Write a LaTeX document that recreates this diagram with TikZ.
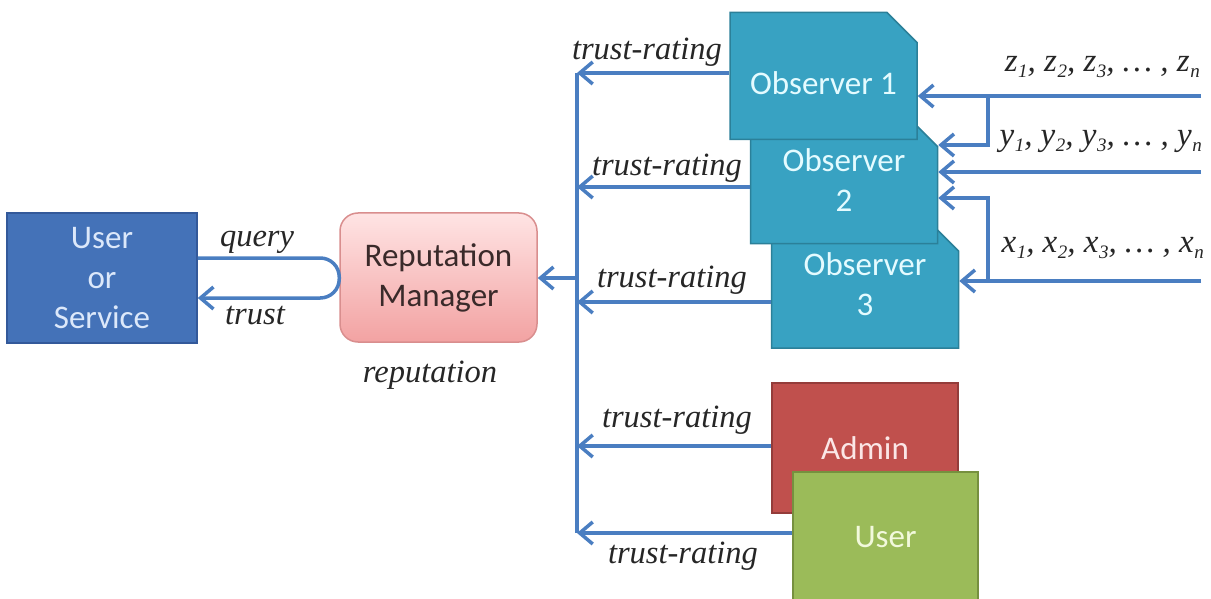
\documentclass[tikz,border=0pt]{standalone}
\usepackage{fontspec}
\setmainfont{Liberation Serif}
\newfontfamily\boxfont{Carlito}
\usetikzlibrary{arrows.meta,shapes.misc}

\definecolor{linkblue}{HTML}{4A7EC1}
\definecolor{svcblue}{HTML}{4472B8}
\definecolor{svcedge}{HTML}{33599A}
\definecolor{svctext}{HTML}{DCE8FA}
\definecolor{obsfill}{HTML}{38A2C2}
\definecolor{obsedge}{HTML}{2B8099}
\definecolor{obstext}{HTML}{E4FBFF}
\definecolor{admfill}{HTML}{C0504D}
\definecolor{admedge}{HTML}{943C3A}
\definecolor{admtext}{HTML}{FBE6E6}
\definecolor{usrfill}{HTML}{9BBB59}
\definecolor{usredge}{HTML}{76903F}
\definecolor{usrtext}{HTML}{F2F9DC}
\definecolor{rmtop}{HTML}{FFE4E4}
\definecolor{rmbot}{HTML}{F2A2A2}
\definecolor{rmedge}{HTML}{D98E8E}
\definecolor{rmtext}{HTML}{3A2A2A}
\definecolor{labtext}{HTML}{262626}

% variable with a lowered index, e.g. z_1
\newcommand{\vs}[2]{\textit{#1}\kern0.5pt\raisebox{-0.4ex}{\fontsize{19}{19}\selectfont\textit{#2}}}

\begin{document}
\begin{tikzpicture}[x=1pt,y=-1pt,
  box/.style={rectangle, draw, line width=1.5pt, inner sep=0pt, align=center,
    font=\boxfont\fontsize{33}{40}\selectfont},
  obsbox/.style={box, chamfered rectangle, chamfered rectangle corners=north east,
    chamfered rectangle xsep=15pt, chamfered rectangle ysep=15pt,
    fill=obsfill, draw=obsedge, text=obstext,
    minimum width=187pt, minimum height=127pt},
  lab/.style={font=\itshape\fontsize{32.5}{33}\selectfont, text=labtext, inner sep=0pt},
  varlab/.style={font=\itshape\fontsize{33}{33}\selectfont, text=labtext, inner sep=0pt, anchor=east},
  link/.style={draw=linkblue, line width=3.5pt},
  arr/.style={link, -{Straight Barb[length=13pt,width=22pt]}}]
\useasboundingbox (0,0) rectangle (1211,599);

% observers, back to front
\node[obsbox] (o3) at (865,284.5) {Observer\\3};
\node[obsbox] (o2) at (844,180) {Observer\\2};
\node[obsbox, text height=37pt, text depth=0pt] (o1) at (823.5,76) {Observer 1};

% admin and user
\node[box, fill=admfill, draw=admedge, text=admtext, minimum width=186pt, minimum height=130pt] (adm) at (865,448) {Admin};
\node[box, fill=usrfill, draw=usredge, text=usrtext, minimum width=185pt, minimum height=130pt] (usr) at (885.5,537) {User};

% requester and reputation manager
\node[box, fill=svcblue, draw=svcedge, text=svctext, minimum width=190pt, minimum height=130pt] (us) at (102,278) {User\\or\\Service};
\node[box, rounded corners=18pt, top color=rmtop, bottom color=rmbot, draw=rmedge, text=rmtext,
  minimum width=197pt, minimum height=129pt] (rm) at (438.5,277.5) {Reputation\\Manager};

% query / trust loop
\coordinate (qy) at (0,258);
\coordinate (ty) at (0,298);
\draw[arr, rounded corners=19pt] (us.east |- qy) -- (rm.west |- qy) -- (rm.west |- ty) -- (us.east |- ty);

% collecting bus
\coordinate (b1) at (577,73);
\coordinate (b2) at (577,187);
\coordinate (b3) at (577,302);
\coordinate (b4) at (577,446);
\coordinate (b5) at (577,533);
\coordinate (brm) at (577,278);
\draw[link] (b1) -- (b5);
\draw[arr] (b1 -| o1.west) -- (b1);
\draw[arr] (b2 -| o2.west) -- (b2);
\draw[arr] (b3 -| o3.west) -- (b3);
\draw[arr] (b4 -| adm.west) -- (b4);
\draw[arr] (b5 -| usr.west) -- (b5);
\draw[arr] (brm) -- (brm -| rm.east);

% observation streams
\coordinate (zin) at (1201,96);
\coordinate (yin) at (1201,172);
\coordinate (xin) at (1201,281);
\coordinate (zb) at (988,96);
\coordinate (zb2) at (988,145);
\coordinate (xb) at (988,281);
\coordinate (xb2) at (988,198);
\draw[arr] (zin) -- (zin -| o1.east);
\draw[arr] (zb) -- (zb2) -- (zb2 -| o2.east);
\draw[arr] (yin) -- (yin -| o2.east);
\draw[arr] (xin) -- (xin -| o3.east);
\draw[arr] (xb) -- (xb2) -- (xb2 -| o2.east);

% labels
\node[lab] (lq) at (257,242) {query};
\node[lab] (lt) at (255,316) {trust};
\node[lab] (lrep) at (430,375) {reputation};
\node[lab] (tr1) at (647,52) {trust-rating};
\node[lab] (tr2) at (667,168) {trust-rating};
\node[lab] (tr3) at (672,280) {trust-rating};
\node[lab] (tr4) at (677,420) {trust-rating};
\node[lab] (tr5) at (683,556) {trust-rating};
\node[varlab] (lz) at (1200,67) {\vs{z}{1}, \vs{z}{2}, \vs{z}{3}, \ldots\ , \vs{z}{n}};
\node[varlab] (ly) at (1202,141) {\vs{y}{1}, \vs{y}{2}, \vs{y}{3}, \ldots\ , \vs{y}{n}};
\node[varlab] (lx) at (1204,248) {\vs{x}{1}, \vs{x}{2}, \vs{x}{3}, \ldots\ , \vs{x}{n}};
\end{tikzpicture}
\end{document}
